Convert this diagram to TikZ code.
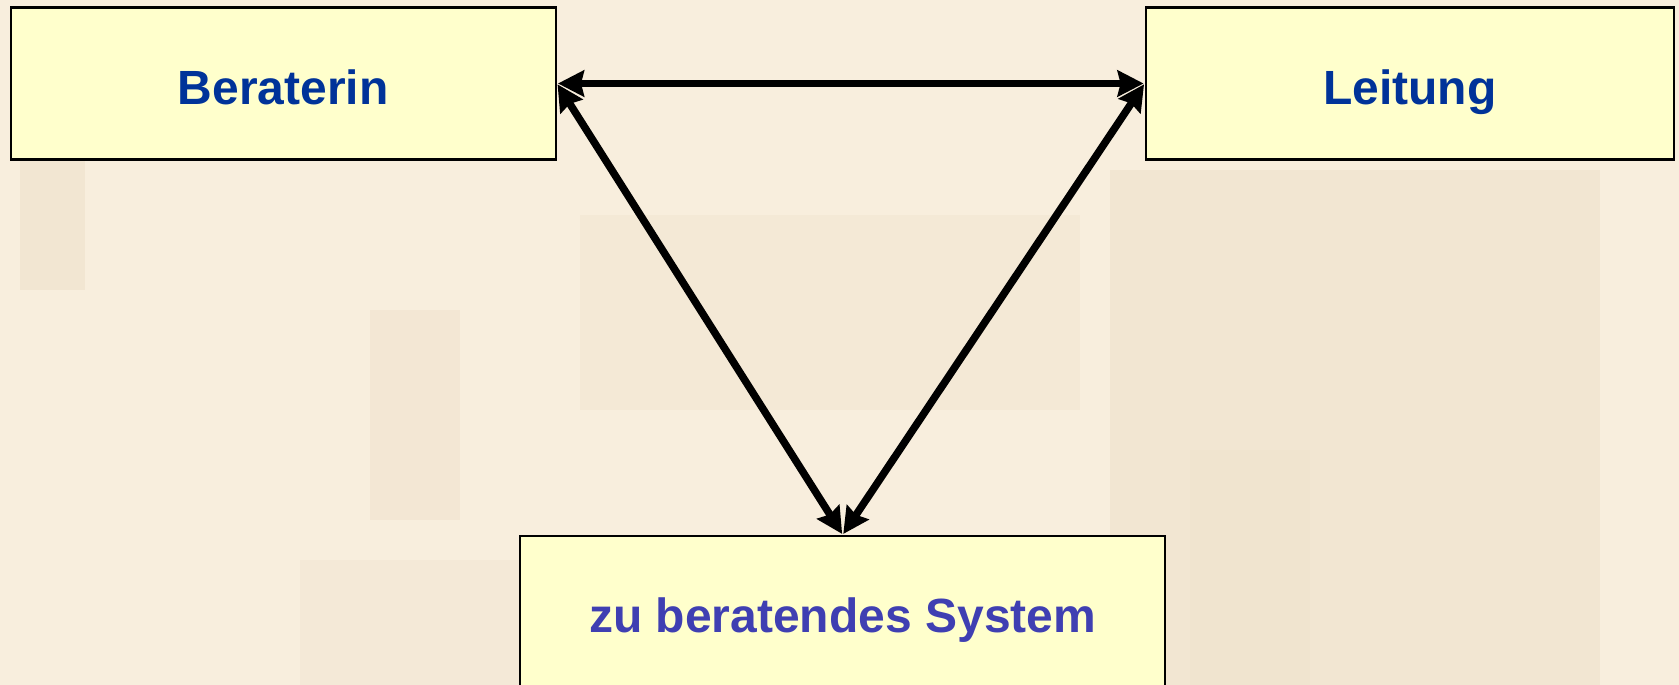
\documentclass[tikz,border=0pt]{standalone}
\usepackage{fontspec}
\setmainfont{Liberation Sans}
\usetikzlibrary{arrows.meta}
\definecolor{paper}{HTML}{F8EEDD}
\definecolor{shadeA}{HTML}{EFE2CC}
\definecolor{shadeB}{HTML}{E9DAC2}
\definecolor{boxfill}{HTML}{FFFFCC}
\definecolor{titleblue}{HTML}{003399}
\definecolor{sysblue}{HTML}{3F3FB2}
\tikzset{
  rolebox/.style={draw=black, line width=2.4pt, fill=boxfill, minimum height=152pt,
    inner sep=0pt, text height=41pt, text depth=0pt,
    font=\fontsize{48}{54}\selectfont\bfseries, text=titleblue},
  link/.style={line width=7.5pt, {Stealth[length=26pt,width=26pt,inset=3pt]}-{Stealth[length=26pt,width=26pt,inset=3pt]}, shorten <=1pt, shorten >=1pt}
}
\begin{document}
\begin{tikzpicture}[x=1pt,y=-1pt]
  \useasboundingbox (0,0) rectangle (1679,685);
  \clip (0,0) rectangle (1679,685);
  % faded backdrop
  \fill[paper] (0,0) rectangle (1679,685);
  \fill[shadeA, opacity=0.6] (20,160) rectangle (85,290);
  \fill[shadeA, opacity=0.5] (370,310) rectangle (460,520);
  \fill[shadeA, opacity=0.4] (580,215) rectangle (1080,410);
  \fill[shadeB, opacity=0.4] (1110,170) rectangle (1600,685);
  \fill[shadeA, opacity=0.4] (1190,450) rectangle (1310,685);
  \fill[shadeA, opacity=0.35] (300,560) rectangle (520,685);
  % boxes
  \node[rolebox, minimum width=545pt] (berater) at (283.3,83.5) {Beraterin};
  \node[rolebox, minimum width=528pt] (leitung) at (1409.8,83.5) {Leitung};
  \node[rolebox, minimum width=645pt, text=sysblue] (system) at (842.7,612) {zu beratendes System};
  % relations
  \draw[link] (berater.east) -- (leitung.west);
  \draw[link] (berater.east) -- (system.north);
  \draw[link] (leitung.west) -- (system.north);
\end{tikzpicture}
\end{document}
